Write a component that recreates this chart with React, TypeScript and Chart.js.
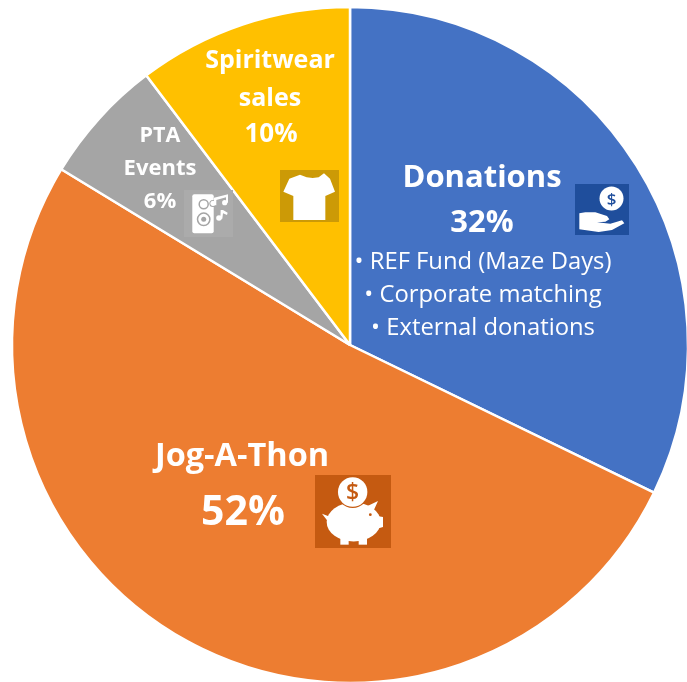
import React, { useEffect, useRef } from "react";
import { Chart, registerables } from "chart.js";

Chart.register(...registerables);

const categories = ["Donations", "Jog-A-Thon", "PTA Events", "Spiritwear sales"];
const shares = [32.2, 51.5, 6, 10.3];
const colors = ["#4472C4", "#ED7D31", "#A5A5A5", "#FFC000"];
const FONT = '"Open Sans", sans-serif';

type Pt = [number, number];
function poly(ctx: CanvasRenderingContext2D, pts: Pt[], ox: number, oy: number) {
  ctx.beginPath();
  pts.forEach(([x, y], i) => {
    const px = ox + x / 3;
    const py = oy + y / 3;
    if (i === 0) ctx.moveTo(px, py);
    else ctx.lineTo(px, py);
  });
  ctx.closePath();
  ctx.fill();
}
function circle(ctx: CanvasRenderingContext2D, x: number, y: number, r: number) {
  ctx.beginPath();
  ctx.arc(x, y, r, 0, Math.PI * 2);
  ctx.fill();
}
function ring(ctx: CanvasRenderingContext2D, x: number, y: number, r: number, w: number) {
  ctx.beginPath();
  ctx.arc(x, y, r, 0, Math.PI * 2);
  ctx.lineWidth = w;
  ctx.stroke();
}

function drawIcons(ctx: CanvasRenderingContext2D) {
  // shirt
  ctx.fillStyle = "#CC9A06";
  ctx.fillRect(280, 170, 59, 52);
  ctx.fillStyle = "#fff";
  poly(ctx, [[510, 224], [530, 232], [548, 234], [566, 232], [582, 220], [600, 236], [615, 275], [586, 288], [586, 360], [490, 360], [490, 288], [460, 275], [478, 236]], 130, 100);

  // speaker with notes
  ctx.fillStyle = "#ABABAB";
  ctx.fillRect(184, 190, 49, 47);
  ctx.fillStyle = "#fff";
  ctx.beginPath();
  ctx.roundRect(192.3, 194.3, 21.4, 39, 2);
  ctx.fill();
  ctx.strokeStyle = "#A5A5A5";
  ring(ctx, 203.7, 204.3, 4.5, 1.5);
  ring(ctx, 203.7, 219.3, 6.2, 1.5);
  ctx.fillStyle = "#A5A5A5";
  circle(ctx, 203.7, 219.3, 2.5);
  circle(ctx, 213, 203.5, 3.6);
  ctx.fillStyle = "#fff";
  circle(ctx, 213, 203.3, 2.6);
  circle(ctx, 224.7, 202.7, 2.6);
  poly(ctx, [[93, 35], [135, 25], [135, 50], [129, 50], [129, 34], [100, 42], [100, 58], [93, 58]], 183, 186);
  circle(ctx, 219, 218, 2.8);
  poly(ctx, [[113, 72], [120, 72], [134, 80], [132, 87], [120, 82], [118, 98], [112, 98]], 183, 186);

  // donation hand
  ctx.fillStyle = "#1F4E9C";
  ctx.fillRect(575, 184, 54, 51);
  ctx.fillStyle = "#fff";
  circle(ctx, 611.5, 198.5, 12);
  poly(ctx, [[22, 100], [40, 97], [70, 97], [105, 108], [112, 118], [100, 125], [75, 127], [115, 131], [150, 121], [157, 130], [120, 150], [80, 156], [22, 148]], 572, 180);
  ctx.fillStyle = "#1F4E9C";
  ctx.font = `600 17px ${FONT}`;
  ctx.textAlign = "center";
  ctx.fillText("$", 611.5, 204.5);

  // piggy bank
  ctx.fillStyle = "#C55A11";
  ctx.fillRect(315, 475, 76, 73);
  ctx.fillStyle = "#fff";
  ctx.beginPath();
  ctx.ellipse(312 + 125 / 3, 472 + 150 / 3, 27, 19.5, 0, 0, Math.PI * 2);
  ctx.fill();
  poly(ctx, [[165, 103], [198, 87], [182, 122], [195, 132], [213, 135], [213, 165], [190, 172], [165, 195], [100, 195], [65, 170]], 312, 472);
  poly(ctx, [[30, 125], [50, 133], [62, 125], [62, 155], [45, 145]], 312, 472);
  poly(ctx, [[85, 185], [110, 185], [110, 218], [85, 218]], 312, 472);
  poly(ctx, [[140, 185], [165, 185], [165, 218], [140, 218]], 312, 472);
  ctx.fillStyle = "#C55A11";
  circle(ctx, 312 + 122 / 3, 472 + 60 / 3, 16);
  ctx.fillStyle = "#fff";
  circle(ctx, 312 + 122 / 3, 472 + 60 / 3, 14.7);
  ctx.fillStyle = "#C55A11";
  ctx.font = `600 23px ${FONT}`;
  ctx.textAlign = "center";
  ctx.fillText("$", 312 + 122 / 3, 500);
  circle(ctx, 312 + 175 / 3, 472 + 128 / 3, 1.4);
}

const textRows: [string, number, number, number, number][] = [
  ["Donations", 482, 187, 700, 31],
  ["32%", 482, 232, 700, 31],
  ["• REF Fund (Maze Days)", 483, 269, 400, 23.8],
  ["• Corporate matching", 483, 302, 400, 23.8],
  ["• External donations", 483, 335, 400, 23.8],
  ["Jog-A-Thon", 242, 466, 700, 32.5],
  ["52%", 243, 525, 700, 41],
  ["Spiritwear", 270, 68, 700, 25],
  ["sales", 270, 106, 700, 25],
  ["10%", 271, 142, 700, 26],
  ["PTA", 160, 142, 700, 21.5],
  ["Events", 160, 175, 700, 22],
  ["6%", 160, 208, 700, 22],
];

const overlay = {
  id: "overlay",
  afterDatasetsDraw(chart: Chart) {
    const ctx = chart.ctx;
    ctx.save();
    drawIcons(ctx);
    ctx.fillStyle = "#fff";
    ctx.textAlign = "center";
    ctx.textBaseline = "alphabetic";
    for (const [t, x, y, w, s] of textRows) {
      ctx.font = `${w} ${s}px ${FONT}`;
      ctx.fillText(t, x, y);
    }
    ctx.restore();
  },
};

export default function App() {
  const ref = useRef<HTMLCanvasElement>(null);
  useEffect(() => {
    const chart = new Chart(ref.current!, {
      type: "pie",
      data: {
        labels: categories,
        datasets: [
          {
            data: shares,
            backgroundColor: colors,
            borderColor: "#fff",
            borderWidth: 2.5,
            hoverBorderWidth: 2.5,
          },
        ],
      },
      options: {
        responsive: false,
        animation: false,
        layout: { padding: 5.75 },
        plugins: { legend: { display: false }, tooltip: { enabled: false } },
      },
      plugins: [overlay],
    });
    return () => chart.destroy();
  }, []);
  return (
    <div style={{ position: "fixed", left: 0, top: 0, width: 687, height: 682, overflow: "hidden", background: "#fff" }}>
      <canvas ref={ref} width={700} height={690} style={{ display: "block" }} />
    </div>
  );
}
